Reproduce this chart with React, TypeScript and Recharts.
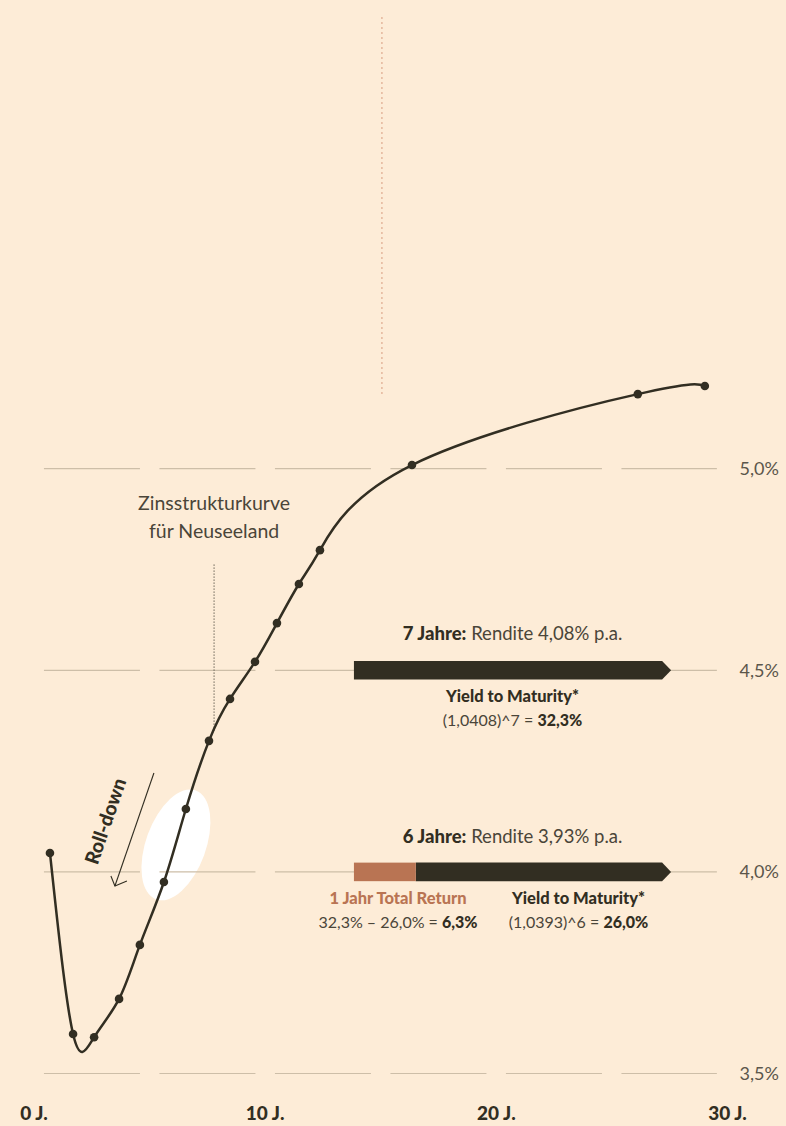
import React from 'react';
import {
  LineChart,
  Line,
  XAxis,
  YAxis,
  ReferenceLine,
  ReferenceDot,
  ReferenceArea,
} from 'recharts';

// Zinsstrukturkurve Neuseeland: Laufzeit in Jahren, Rendite in %
const maturities = [0.69, 1.69, 2.6, 3.68, 4.58, 5.62, 6.57, 7.57, 8.48, 9.56, 10.51, 11.46, 12.37, 16.35, 26.12, 29.02];
const yieldsPct = [4.047, 3.598, 3.59, 3.685, 3.819, 3.975, 4.156, 4.325, 4.429, 4.521, 4.617, 4.714, 4.798, 5.009, 5.185, 5.205];

const xTicks = [0, 10, 20, 30];
const xTickLabels = ['0 J.', '10 J.', '20 J.', '30 J.'];
const yTicks = [3.5, 4.0, 4.5, 5.0];
const yTickLabels = ['3,5%', '4,0%', '4,5%', '5,0%'];

// Beispielrechnung 7 vs. 6 Jahre
const ytm7 = 32.3;
const ytm6 = 26.0;
const totalReturn1y = 6.3;

const data = maturities.map((t, i) => ({ t, y: yieldsPct[i] }));

const BG = '#fdecd7';
const INK = '#322e22';
const TEXT = '#4a4539';
const COPPER = '#b97453';
const FONT = "Lato, 'Open Sans', sans-serif";

// bars sit on the 4,5 % / 4,0 % grid lines, length scaled by percent
const BAR_START = 13.84;
const YEARS_PER_PCT = (27.56 - BAR_START) / ytm7;
const BAR_HALF = 0.023;

const pct = (v: number) => v.toFixed(1).replace('.', ',') + '%';

const XTick = ({ x, y, payload }: any) => (
  <text x={x} y={y + 46} textAnchor="middle" fontFamily={FONT} fontWeight={900} fontSize={19} fill={INK}>
    {xTickLabels[xTicks.indexOf(payload.value)]}
  </text>
);

const YTick = ({ x, y, payload }: any) => (
  <text x={x + 51.5} y={y + 6.5} textAnchor="end" fontFamily={FONT} fontSize={18} fill="#5b564b">
    {yTickLabels[yTicks.indexOf(payload.value)]}
  </text>
);

const arrowBar = (fill: string) => (props: any) => {
  const { x, y, width, height } = props;
  const tip = 9;
  const d = `M${x},${y} H${x + width - tip} L${x + width},${y + height / 2} L${x + width - tip},${y + height} H${x} Z`;
  return <path d={d} fill={fill} />;
};

const plainBar = (fill: string) => (props: any) => {
  const { x, y, width, height } = props;
  return <rect x={x} y={y} width={width} height={height} fill={fill} />;
};

const Highlight = ({ cx, cy }: any) => (
  <ellipse cx={cx} cy={cy} rx={30} ry={58} fill="#ffffff" transform={`rotate(20 ${cx} ${cy})`} />
);

const RollDown = ({ cx, cy }: any) => (
  <g>
    <line x1={cx + 39} y1={cy - 113} x2={cx} y2={cy} stroke={INK} strokeWidth={1.1} />
    <polyline
      points={`${cx - 4},${cy - 10} ${cx},${cy} ${cx + 12},${cy - 5}`}
      fill="none"
      stroke={INK}
      strokeWidth={1.1}
    />
    <text
      x={cx - 10}
      y={cy - 65}
      textAnchor="middle"
      dominantBaseline="central"
      transform={`rotate(-71 ${cx - 10} ${cy - 65})`}
      fontFamily={FONT}
      fontWeight={900}
      fontSize={19.5}
      fill={INK}
    >
      Roll-down
    </text>
  </g>
);

const CurveNote = ({ cx, cy }: any) => (
  <text textAnchor="middle" fontFamily={FONT} fontSize={19.5} fill={TEXT}>
    <tspan x={cx} y={cy - 53}>Zinsstrukturkurve</tspan>
    <tspan x={cx} y={cy - 25}>für Neuseeland</tspan>
  </text>
);

const Note7 = ({ cx, cy }: any) => (
  <g fontFamily={FONT} textAnchor="middle">
    <text x={cx} y={cy - 30} fontSize={18.5} fill={TEXT}>
      <tspan fontWeight={900} fill={INK}>7 Jahre:</tspan> Rendite 4,08% p.a.
    </text>
    <text x={cx} y={cy + 32} fontSize={16.5} fontWeight={900} fill={INK}>Yield to Maturity*</text>
    <text x={cx} y={cy + 56} fontSize={16} fill={TEXT}>
      (1,0408)^7 = <tspan fontWeight={900} fill={INK}>{pct(ytm7)}</tspan>
    </text>
  </g>
);

const Note6 = ({ cx, cy }: any) => (
  <g fontFamily={FONT} textAnchor="middle">
    <text x={cx} y={cy - 29} fontSize={18.5} fill={TEXT}>
      <tspan fontWeight={900} fill={INK}>6 Jahre:</tspan> Rendite 3,93% p.a.
    </text>
    <text x={cx - 114.5} y={cy + 32} fontSize={16.5} fontWeight={900} fill={COPPER}>1 Jahr Total Return</text>
    <text x={cx - 114.5} y={cy + 56} fontSize={16} fill={TEXT}>
      32,3% – 26,0% = <tspan fontWeight={900} fill={INK}>{pct(totalReturn1y)}</tspan>
    </text>
    <text x={cx + 66} y={cy + 32} fontSize={16.5} fontWeight={900} fill={INK}>Yield to Maturity*</text>
    <text x={cx + 66} y={cy + 56} fontSize={16} fill={TEXT}>
      (1,0393)^6 = <tspan fontWeight={900} fill={INK}>{pct(ytm6)}</tspan>
    </text>
  </g>
);

export default function App() {
  const barEnd = BAR_START + ytm7 * YEARS_PER_PCT;
  const split6 = BAR_START + totalReturn1y * YEARS_PER_PCT;

  return (
    <div style={{ position: 'absolute', left: 0, top: 0, width: 786, height: 1126, background: BG }}>
      <LineChart width={786} height={1126} data={data} margin={{ top: 5, right: 0, bottom: 12.5, left: 34 }}>
        <XAxis
          dataKey="t"
          type="number"
          domain={[0, 30]}
          ticks={xTicks}
          axisLine={false}
          tickLine={false}
          tickSize={0}
          tickMargin={0}
          height={40}
          tick={<XTick />}
        />
        <YAxis
          orientation="right"
          type="number"
          domain={[3.5, 6.15]}
          ticks={yTicks}
          axisLine={false}
          tickLine={false}
          tickSize={0}
          tickMargin={0}
          width={58.5}
          tick={<YTick />}
        />

        <ReferenceDot x={6.14} y={4.067} r={0} shape={<Highlight />} zIndex={-60} />

        {yTicks.map((v) => (
          <ReferenceLine
            key={v}
            segment={[{ x: 0.43, y: v }, { x: 29.54, y: v }]}
            stroke="#cdbea8"
            strokeWidth={1.2}
            strokeDasharray="96 19.5"
            zIndex={-50}
          />
        ))}

        {/* dotted guides */}
        <ReferenceLine
          segment={[{ x: 15.05, y: 5.186 }, { x: 15.05, y: 6.123 }]}
          stroke="#dda58a"
          strokeWidth={1.5}
          strokeDasharray="1.5 3.5"
        />
        <ReferenceLine
          segment={[{ x: 7.79, y: 4.35 }, { x: 7.79, y: 4.766 }]}
          stroke="#6e675a"
          strokeWidth={1.2}
          strokeDasharray="1.2 1.8"
        />
        <ReferenceDot x={7.79} y={4.766} r={0} shape={<CurveNote />} />

        {/* 7 Jahre */}
        <ReferenceArea x1={BAR_START} x2={barEnd} y1={4.5 - BAR_HALF} y2={4.5 + BAR_HALF} shape={arrowBar(INK)} />
        <ReferenceDot x={20.7} y={4.5} r={0} shape={<Note7 />} />

        {/* 6 Jahre */}
        <ReferenceArea x1={split6} x2={barEnd} y1={4.0 - BAR_HALF} y2={4.0 + BAR_HALF} shape={arrowBar(INK)} />
        <ReferenceArea x1={BAR_START} x2={split6} y1={4.0 - BAR_HALF} y2={4.0 + BAR_HALF} shape={plainBar(COPPER)} />
        <ReferenceDot x={20.7} y={4.0} r={0} shape={<Note6 />} />

        <ReferenceDot x={3.5} y={3.965} r={0} shape={<RollDown />} />

        <Line
          dataKey="y"
          type="natural"
          stroke={INK}
          strokeWidth={2.5}
          dot={{ r: 4.3, fill: INK, stroke: 'none' }}
          activeDot={false}
          isAnimationActive={false}
        />
      </LineChart>
    </div>
  );
}
